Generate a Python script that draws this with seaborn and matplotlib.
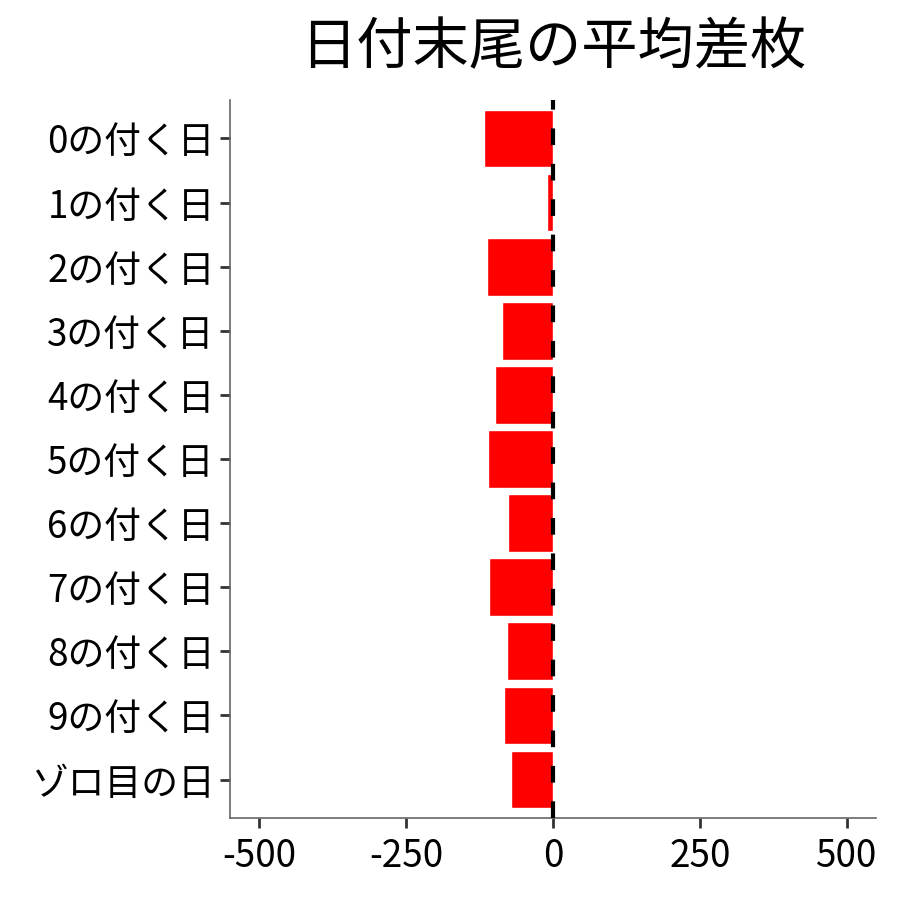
import matplotlib
matplotlib.use("Agg")
import matplotlib.pyplot as plt
import seaborn as sns
import pandas as pd

# 日付末尾ごとの平均差枚
labels = ["0の付く日", "1の付く日", "2の付く日", "3の付く日", "4の付く日",
          "5の付く日", "6の付く日", "7の付く日", "8の付く日", "9の付く日", "ゾロ目の日"]
values = [-118, -10, -113, -87, -99, -110, -76, -109, -79, -84, -71]

df = pd.DataFrame({"day": labels, "diff": values})

sns.set_style("white")
plt.rcParams['font.family'] = ['Noto Sans CJK JP', 'DejaVu Sans']

fig = plt.figure(figsize=(9, 9), dpi=100)
ax = fig.add_axes([0.2556, 0.0911, 0.7177, 0.7978])

sns.barplot(data=df, x="diff", y="day", order=labels, color="#ff0000",
            width=0.9, saturation=1, ax=ax)
ax.axvline(0, color="black", lw=3, ls=(0, (4, 4.5)), zorder=5)

ax.set_xlim(-550, 550)
ax.set_ylim(len(labels) - 0.4, -0.6)
ax.set_xticks([-500, -250, 0, 250, 500])
ax.set_xticklabels(["-500", "-250", "0", "250", "500"])
ax.set_xlabel("")
ax.set_ylabel("")
ax.set_title("日付末尾の平均差枚", fontsize=40.5, pad=26, color="black")

sns.despine(ax=ax)
for s in ["left", "bottom"]:
    ax.spines[s].set_color("#666666")
    ax.spines[s].set_linewidth(1.2)
ax.tick_params(axis="both", bottom=True, left=True, labelsize=26.5, length=7,
               width=2, color="#333333", labelcolor="black", pad=4)
ax.tick_params(axis="x", pad=7)

fig.savefig("out.png", dpi=100)
